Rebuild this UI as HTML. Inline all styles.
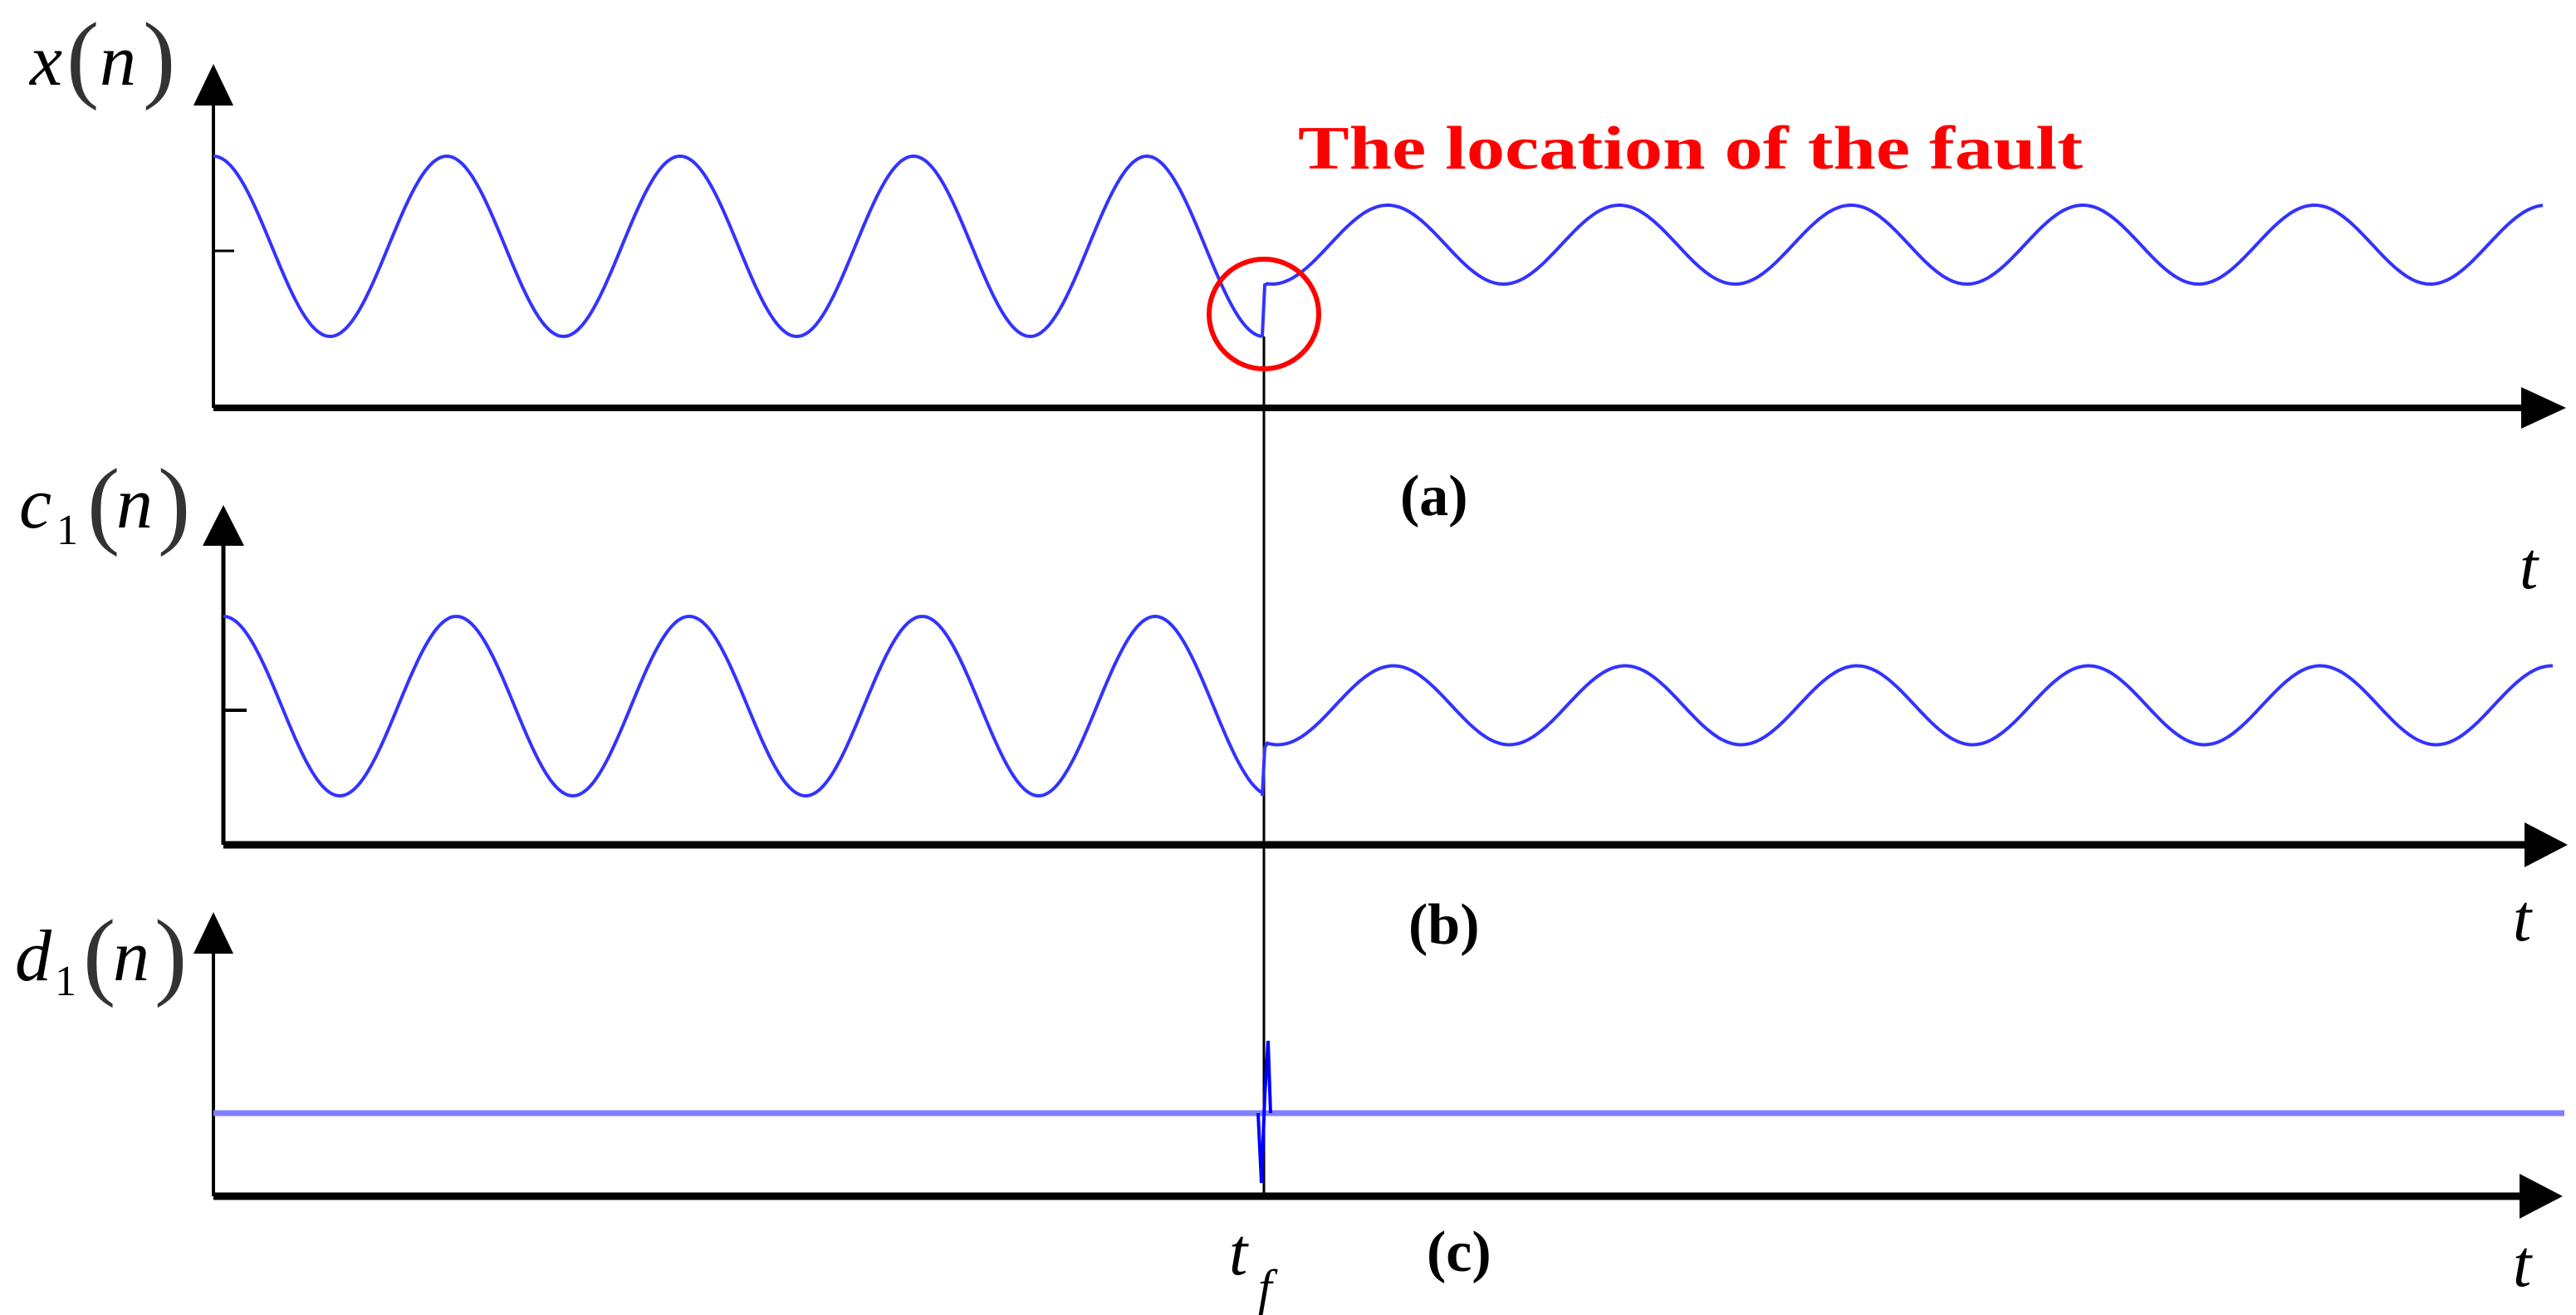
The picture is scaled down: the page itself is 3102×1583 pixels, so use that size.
<!DOCTYPE html>
<html><head><meta charset="utf-8"><style>
html,body{margin:0;padding:0;background:#fff;}
svg{display:block;}
.lab{font-family:"Liberation Serif",serif;font-style:italic;fill:#000;}
.cap{font-family:"Liberation Serif",serif;font-weight:bold;fill:#000;}
</style></head><body>
<svg id="s" width="3102" height="1583" viewBox="0 0 3102 1583" xmlns="http://www.w3.org/2000/svg">
<line x1="257" y1="120" x2="257" y2="491" stroke="#000" stroke-width="4"/>
<polygon points="257,77 233,127 281,127" fill="#000"/>
<line x1="257" y1="491" x2="3040" y2="491" stroke="#000" stroke-width="8"/>
<polygon points="3090,491 3036,466 3036,516" fill="#000"/>
<line x1="257" y1="302" x2="282" y2="302" stroke="#000" stroke-width="3"/>
<line x1="269" y1="650" x2="269" y2="1017" stroke="#000" stroke-width="5"/>
<polygon points="269,608 244,657 294,657" fill="#000"/>
<line x1="269" y1="1017" x2="3040" y2="1017" stroke="#000" stroke-width="9"/>
<polygon points="3092,1017 3040,990 3040,1044" fill="#000"/>
<line x1="269" y1="855" x2="297" y2="855" stroke="#000" stroke-width="4"/>
<line x1="257" y1="1140" x2="257" y2="1440" stroke="#000" stroke-width="4"/>
<polygon points="257,1098 233,1148 281,1148" fill="#000"/>
<line x1="257" y1="1440" x2="3040" y2="1440" stroke="#000" stroke-width="9"/>
<polygon points="3086,1440 3034,1413 3034,1467" fill="#000"/>
<line x1="1522" y1="405" x2="1522" y2="1440" stroke="#000" stroke-width="3"/>
<path id="wa" fill="none" stroke="#3333ff" stroke-width="4"/>
<path id="wb" fill="none" stroke="#3333ff" stroke-width="4"/>
<line x1="257" y1="1340" x2="3088" y2="1340" stroke="#7f7fff" stroke-width="7"/>
<polyline points="1515,1340 1519,1424 1523,1320 1527,1253 1530,1340" fill="none" stroke="#0000ff" stroke-width="4"/>
<ellipse cx="1522" cy="378" rx="66" ry="66" fill="none" stroke="#ff0000" stroke-width="6"/>
<text x="1563" y="203" font-family="Liberation Serif, serif" font-weight="bold" font-size="74" fill="#ff0000" textLength="945" lengthAdjust="spacingAndGlyphs">The location of the fault</text>
<text class="lab" x="36" y="102" font-size="88">x</text>
<text x="80" y="108" font-family="Liberation Serif,serif" font-size="118" fill="#333">(</text>
<text class="lab" x="120" y="102" font-size="88">n</text>
<text x="172" y="108" font-family="Liberation Serif,serif" font-size="118" fill="#333">)</text>
<text class="lab" x="23" y="635" font-size="88">c</text>
<text x="68" y="655" font-family="Liberation Serif,serif" font-size="52">1</text>
<text x="105" y="645" font-family="Liberation Serif,serif" font-size="118" fill="#333">(</text>
<text class="lab" x="140" y="635" font-size="88">n</text>
<text x="190" y="645" font-family="Liberation Serif,serif" font-size="118" fill="#333">)</text>
<text class="lab" x="18" y="1180" font-size="88">d</text>
<text x="66" y="1198" font-family="Liberation Serif,serif" font-size="52">1</text>
<text x="100" y="1188" font-family="Liberation Serif,serif" font-size="118" fill="#333">(</text>
<text class="lab" x="136" y="1180" font-size="88">n</text>
<text x="186" y="1188" font-family="Liberation Serif,serif" font-size="118" fill="#333">)</text>
<text class="cap" x="1686" y="620" font-size="70">(a)</text>
<text class="cap" x="1696" y="1136" font-size="70">(b)</text>
<text class="cap" x="1718" y="1530" font-size="70">(c)</text>
<text class="lab" x="3034" y="708" font-size="80">t</text>
<text class="lab" x="3026" y="1132" font-size="80">t</text>
<text class="lab" x="3026" y="1548" font-size="80">t</text>
<text class="lab" x="1480" y="1534" font-size="80">t</text>
<text class="lab" x="1515" y="1570" font-size="60">f</text>
</svg>
<script>
function wave(x0,x1,fn){var d="";for(var x=x0;x<=x1;x+=3){d+=(x===x0?"M":"L")+x+","+fn(x).toFixed(1)+" ";}return d;}
var P=2*Math.PI;
function tc(p){var c=Math.cos(p);var t=1-2*Math.abs(((p/P)%1+1)%1*2-1);return 0.6*c+0.4*(-t);}
var a=wave(257,1520,function(x){return 296.5-108.5*Math.cos(P*(x-257)/281);});
a+="L1520,405 L1523,343 ";
a+=wave(1526,3062,function(x){return 294.5-47.5*Math.cos(P*(x-1671)/279);}).replace(/^M/,"L");
document.getElementById("wa").setAttribute("d",a);
var b=wave(269,1520,function(x){return 850-108*Math.cos(P*(x-269)/280.5);});
b+="L1520,958 L1523,900 ";
b+=wave(1526,3075,function(x){return 849-47.5*Math.cos(P*(x-1678)/279);}).replace(/^M/,"L");
document.getElementById("wb").setAttribute("d",b);
</script>
</body></html>
